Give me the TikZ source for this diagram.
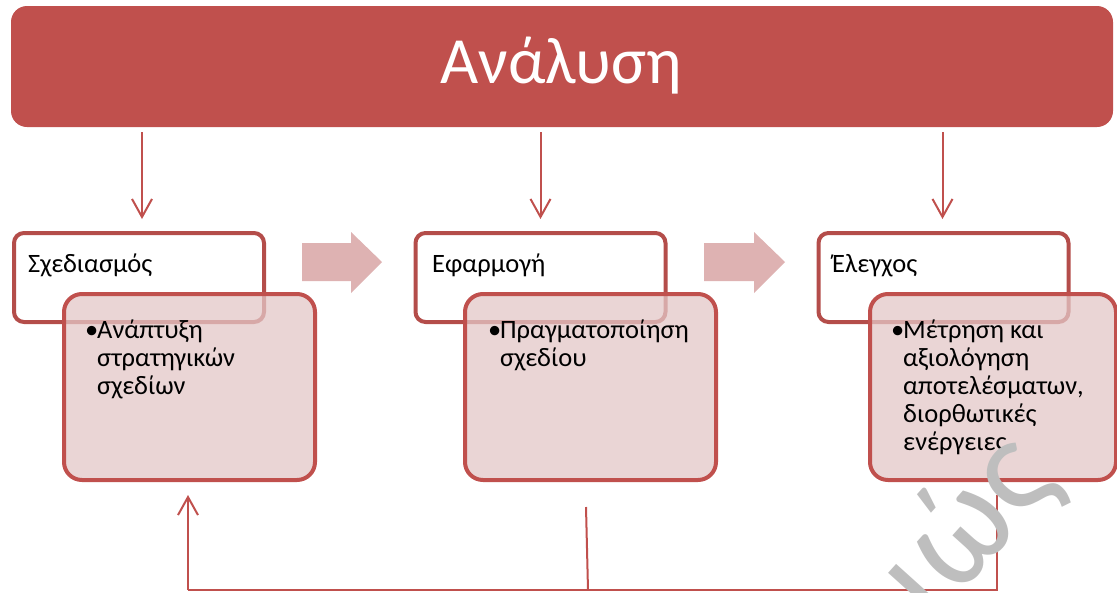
\documentclass[tikz,border=0pt]{standalone}
\usepackage{fontspec}
\setmainfont{Carlito}
\usetikzlibrary{arrows.meta}
\definecolor{barred}{RGB}{192,80,77}
\definecolor{upborder}{RGB}{180,77,74}
\definecolor{lowfill}{RGB}{227,199,199}
\definecolor{blockarrow}{RGB}{222,178,178}
\definecolor{wmgray}{RGB}{190,190,190}
\renewcommand\arraystretch{1}
\tikzset{
  upbox/.style={draw=upborder, line width=4pt, fill=white, rounded corners=10pt,
    minimum width=250pt, minimum height=89pt, inner sep=0pt},
  lowbox/.style={draw=barred, line width=4pt, fill=lowfill, fill opacity=0.75, draw opacity=1,
    rounded corners=18pt, minimum width=251pt, minimum height=186pt, inner sep=0pt},
  conn/.style={draw=barred, line width=2pt, -{Straight Barb[length=18pt,width=20pt,line width=2pt]}},
  fb/.style={draw=barred, line width=2pt},
  lbl/.style={font=\fontsize{26.5}{28}\selectfont, inner sep=0pt, anchor=base west, text=black},
  bigarrow/.style={fill=blockarrow, draw=none}
}
\begin{document}
\begin{tikzpicture}[x=1pt,y=-1pt]
\useasboundingbox (0,0) rectangle (1117,592);
% top bar
\node[fill=barred, rounded corners=16pt, minimum width=1102pt, minimum height=121pt, inner sep=0pt] (bar) at (562,66.5) {};
\node[font=\fontsize{66}{70}\selectfont, text=white, inner sep=0pt] (bartxt) at (561,66) {Ανάλυση};
% upper boxes
\node[upbox] (ub1) at (139,277.5) {};
\node[upbox] (ub2) at (540.5,277.5) {};
\node[upbox] (ub3) at (943.5,277.5) {};
% down connectors
\draw[conn, shorten <=5pt, shorten >=12pt] ([xshift=3pt]bar.south -| ub1.north) -- ([xshift=3pt]ub1.north);
\draw[conn, shorten <=5pt, shorten >=12pt] (bar.south -| ub2.north) -- (ub2.north);
\draw[conn, shorten <=5pt, shorten >=12pt] ([xshift=-1pt]bar.south -| ub3.north) -- ([xshift=-1pt]ub3.north);
% lower boxes
\node[lowbox] (lb1) at (189.5,387) {};
\node[lowbox] (lb2) at (590.5,387) {};
\node[lowbox, minimum width=246pt] (lb3) at (993,387) {};
% block arrows
\fill[bigarrow] (302,243) -- (351,243) -- (351,232) -- (382,262) -- (351,293) -- (351,281) -- (302,281) -- cycle;
\fill[bigarrow] (704,243) -- (754,243) -- (754,232) -- (785,262) -- (754,293) -- (754,281) -- (704,281) -- cycle;
% labels
\node[lbl] (t1) at (28,272) {Σχεδιασμός};
\node[lbl] (t2) at (432,272) {Εφαρμογή};
\node[lbl] (t3) at (832,272) {Έλεγχος};
% bullets
\node[lbl] (b1) at (85,338) {•};
\node[lbl] (bt1) at (97,338) {\begin{tabular}[t]{@{}l@{}}Ανάπτυξη\\στρατηγικών\\σχεδίων\end{tabular}};
\node[lbl] (b2) at (488,338) {•};
\node[lbl] (bt2) at (500,338) {\begin{tabular}[t]{@{}l@{}}Πραγματοποίηση\\σχεδίου\end{tabular}};
\node[lbl] (b3) at (891,338) {•};
\node[lbl] (bt3) at (903,338) {\begin{tabular}[t]{@{}l@{}}Μέτρηση και\\αξιολόγηση\\αποτελέσματων,\\διορθωτικές\\ενέργειες\end{tabular}};
% feedback loop
\coordinate (fr) at (997,495);
\coordinate (brc) at (997,590);
\coordinate (blc) at (188,590);
\coordinate (fl) at (188,495);
\coordinate (fm) at (586,507);
\coordinate (bm) at (588,590);
\draw[fb] (fr) -- (brc) -- (blc);
\draw[conn] (blc) -- (fl);
\draw[fb] (fm) -- (bm);
% watermark
\node[font=\fontsize{140}{140}\selectfont, text=wmgray, rotate=48, inner sep=0pt] (wm) at (968,528) {ιώς};
\end{tikzpicture}
\end{document}
